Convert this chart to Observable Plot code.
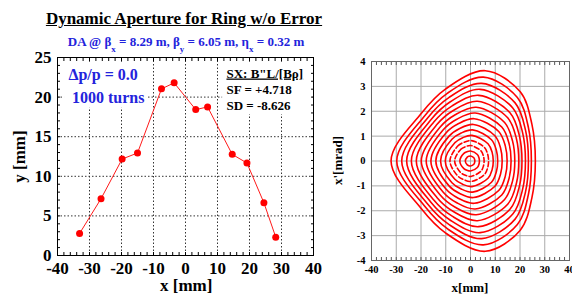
<!DOCTYPE html>
<html>
<head>
<meta charset="utf-8">
<script src="https://cdn.jsdelivr.net/npm/d3@7"></script>
<script src="https://cdn.jsdelivr.net/npm/@observablehq/plot@0.6"></script>
<style>
  html, body { margin: 0; padding: 0; background: #fff; }
  #wrap { position: relative; width: 572px; height: 294px; overflow: hidden; font-family: "Liberation Serif", "Times New Roman", serif; font-weight: bold; }
  .abs { position: absolute; white-space: nowrap; }
  #title { left: 0; width: 368px; top: 10px; text-align: center; font-size: 17px; line-height: 17px; text-decoration: underline; color: #000; }
  #subtitle { left: 0; width: 372px; top: 35px; text-align: center; font-size: 13px; line-height: 13px; color: #2323dc; }
  #subtitle .s { font-size: 9px; position: relative; top: 6px; }
  .axt { font-size: 17px; line-height: 17px; color: #000; }
  .axt2 { font-size: 13px; line-height: 13px; color: #000; }
</style>
</head>
<body>
<div id="wrap">
  <div id="left" class="abs" style="left:0;top:0"></div>
  <div id="right" class="abs" style="left:330px;top:0"></div>
  <div id="title" class="abs">Dynamic Aperture for Ring w/o Error</div>
  <div id="subtitle" class="abs">DA @ β<span class="s">x</span> = 8.29 m, β<span class="s">y</span> = 6.05 m, η<span class="s">x</span> = 0.32 m</div>
  <div class="abs axt" style="left:160px;top:277px;width:50px;text-align:center;">x [mm]</div>
  <div class="abs axt" style="left:-11px;top:148px;width:60px;text-align:center;transform:rotate(-90deg);">y [mm]</div>
  <div class="abs axt2" style="left:440px;top:281px;width:60px;text-align:center;">x[mm]</div>
  <div class="abs axt2" style="left:307px;top:154px;width:60px;text-align:center;transform:rotate(-90deg);">x'[mrad]</div>
</div>
<script>
// ---- Left chart: dynamic aperture ----
const daX = [-33.1, -26.4, -19.8, -15.0, -7.5, -3.55, 3.2, 6.9, 14.6, 19.2, 24.5, 28.2];
const daY = [2.78, 7.17, 12.18, 12.94, 21.04, 21.8, 18.42, 18.76, 12.77, 11.68, 6.66, 2.32];
const leftXTicks = [-40, -30, -20, -10, 0, 10, 20, 30, 40];
const leftYTicks = [0, 5, 10, 15, 20, 25];
const leftXMinor = d3.range(-40, 41, 2);
const leftYMinor = d3.range(0, 26, 1);

// ---- Right chart: phase space rings (upper-half anchor points read per ring, mirrored below) ----
const ringLeft  = [-2.1, -4.3, -6.4, -8.3, -10.2, -12.1, -14.0, -16.0, -17.9, -19.9, -21.9, -23.9, -25.8, -27.8, -29.8, -32.1];
const ringUL1x  = [-1.30, -2.67, -3.97, -5.15, -6.32, -7.50, -8.68, -9.92, -11.1, -12.34, -13.58, -14.82, -16.0, -17.24, -18.48, -20.0];
const ringUL1y  = [0.157, 0.307, 0.465, 0.601, 0.736, 0.873, 1.0, 1.127, 1.245, 1.356, 1.464, 1.566, 1.656, 1.741, 1.823, 1.9];
const ringUL2x  = [-0.65, -1.33, -1.98, -2.57, -3.16, -3.75, -4.34, -4.96, -5.55, -6.17, -6.79, -7.41, -8.0, -8.62, -9.24, -10.0];
const ringUL2y  = [0.19, 0.376, 0.577, 0.754, 0.937, 1.125, 1.308, 1.496, 1.679, 1.858, 2.04, 2.218, 2.39, 2.558, 2.73, 2.9];
const ringTopX  = [0, 0, 0.2, 0.4, 0.6, 0.9, 1.2, 1.5, 1.9, 2.3, 2.8, 3.3, 3.9, 4.5, 5.2, 6.0];
const ringTop   = [0.2, 0.4, 0.62, 0.82, 1.03, 1.25, 1.47, 1.7, 1.93, 2.16, 2.4, 2.64, 2.88, 3.12, 3.37, 3.63];
const ringUR1x  = [1.35, 2.77, 4.24, 5.62, 7.08, 8.47, 9.86, 11.4, 12.63, 13.78, 15.02, 16.02, 17.09, 18.02, 18.94, 20.1];
const ringUR1y  = [0.128, 0.259, 0.407, 0.545, 0.694, 0.853, 1.014, 1.188, 1.365, 1.547, 1.738, 1.932, 2.134, 2.337, 2.554, 2.78];
const ringUR2x  = [1.66, 3.42, 5.23, 6.94, 8.74, 10.45, 12.16, 14.06, 15.58, 17.0, 18.53, 19.76, 21.09, 22.23, 23.37, 24.8];
const ringUR2y  = [0.062, 0.127, 0.2, 0.271, 0.347, 0.429, 0.515, 0.607, 0.701, 0.799, 0.905, 1.011, 1.123, 1.239, 1.358, 1.48];
const ringRight = [1.75, 3.6, 5.5, 7.3, 9.2, 11.0, 12.8, 14.8, 16.4, 17.9, 19.5, 20.8, 22.2, 23.4, 24.6, 26.2];
const ringDashed = [false, false, true, true, false, false, false, false, false, false, false, false, false, false, false, false];
const rightXTicks = [-40, -30, -20, -10, 0, 10, 20, 30, 40];
const rightYTicks = [-4, -3, -2, -1, 0, 1, 2, 3, 4];
const rightXMinor = d3.range(-40, 41, 2);

const daData = daX.map((x, i) => ({x, y: daY[i]}));

const ringRows = [];
ringLeft.forEach((xl, i) => {
  const upper = [
    [xl, 0],
    [ringUL1x[i], ringUL1y[i]],
    [ringUL2x[i], ringUL2y[i]],
    [ringTopX[i], ringTop[i]],
    [ringUR1x[i], ringUR1y[i]],
    [ringUR2x[i], ringUR2y[i]],
    [ringRight[i], 0]
  ];
  const lower = upper.slice(1, -1).reverse().map(([x, y]) => [x, -y]);
  for (const [x, y] of upper.concat(lower)) ringRows.push({ring: i, x, xp: y});
});

const fmt = d => String(d);
const blank = () => "";

const left = Plot.plot({
  width: 330, height: 294,
  marginLeft: 57, marginRight: 17, marginTop: 57, marginBottom: 39,
  style: {fontFamily: "Liberation Serif, serif", fontWeight: "bold", fontSize: "17px", color: "#000", background: "transparent", overflow: "visible"},
  x: {domain: [-40, 40]},
  y: {domain: [0, 25]},
  marks: [
    Plot.gridX(leftXTicks.filter(d => d > -40 && d < 40), {stroke: "#333", strokeOpacity: 1, strokeDasharray: "1.5,2"}),
    Plot.gridY(leftYTicks.filter(d => d > 0 && d < 25), {stroke: "#333", strokeOpacity: 1, strokeDasharray: "1.5,2"}),
    Plot.rect([0], {x1: -37.8, x2: -12.2, y1: 18.6, y2: 24.4, fill: "#fff"}),
    Plot.rect([0], {x1: 11.6, x2: 39.4, y1: 17.8, y2: 24.4, fill: "#fff"}),
    Plot.axisX(leftXMinor, {anchor: "bottom", tickSize: -3, tickFormat: blank, label: null}),
    Plot.axisX(leftXMinor, {anchor: "top", tickSize: -3, tickFormat: blank, label: null}),
    Plot.axisY(leftYMinor, {anchor: "left", tickSize: -3, tickFormat: blank, label: null}),
    Plot.axisY(leftYMinor, {anchor: "right", tickSize: -3, tickFormat: blank, label: null}),
    Plot.axisX(leftXTicks, {anchor: "bottom", tickSize: 0, tickPadding: 6, tickFormat: fmt, label: null}),
    Plot.axisY(leftYTicks, {anchor: "left", tickSize: 0, tickPadding: 6, tickFormat: fmt, label: null}),
    Plot.frame({stroke: "#000", strokeWidth: 1}),
    Plot.line(daData, {x: "x", y: "y", stroke: "#ff1a1a", strokeWidth: 1}),
    Plot.dot(daData, {x: "x", y: "y", r: 3.5, fill: "#ff0000", stroke: "none"}),
    Plot.text(["Δp/p = 0.0"], {x: -36.6, y: 22.8, textAnchor: "start", fill: "#2323dc", fontSize: 16}),
    Plot.text(["1000 turns"], {x: -35.5, y: 19.96, textAnchor: "start", fill: "#2323dc", fontSize: 16}),
    Plot.text(["SX: B\"L/[Bρ]"], {x: 12.8, y: 23.0, textAnchor: "start", fill: "#000", fontSize: 13}),
    Plot.text(["SF = +4.718"], {x: 12.8, y: 20.86, textAnchor: "start", fill: "#000", fontSize: 13}),
    Plot.text(["SD = -8.626"], {x: 12.8, y: 18.88, textAnchor: "start", fill: "#000", fontSize: 13})
  ]
});
document.getElementById("left").appendChild(left);
left.querySelectorAll("text").forEach(t => { if (t.textContent.startsWith("SX:")) t.setAttribute("text-decoration", "underline"); });

const right = Plot.plot({
  width: 242, height: 294,
  marginLeft: 41, marginRight: 3, marginTop: 61, marginBottom: 34,
  style: {fontFamily: "Liberation Serif, serif", fontWeight: "bold", fontSize: "10.5px", color: "#000", background: "transparent", overflow: "visible"},
  x: {domain: [-40, 40]},
  y: {domain: [-4, 4]},
  marks: [
    Plot.gridX(rightXTicks.filter(d => d > -40 && d < 40), {stroke: "#aaa", strokeOpacity: 1}),
    Plot.gridY(rightYTicks.filter(d => d > -4 && d < 4), {stroke: "#aaa", strokeOpacity: 1}),
    Plot.axisX(rightXMinor, {anchor: "bottom", tickSize: -3, tickFormat: blank, label: null, stroke: "#555"}),
    Plot.axisX(rightXMinor, {anchor: "top", tickSize: -3, tickFormat: blank, label: null, stroke: "#555"}),
    Plot.axisX(rightXTicks, {anchor: "bottom", tickSize: 0, tickPadding: 5, tickFormat: fmt, label: null}),
    Plot.axisY(rightYTicks, {anchor: "left", tickSize: 0, tickPadding: 6, tickFormat: fmt, label: null}),
    Plot.frame({stroke: "#666", strokeWidth: 1}),
    Plot.line(ringRows.filter(r => !ringDashed[r.ring]), {x: "x", y: "xp", z: "ring", curve: "catmull-rom-closed", stroke: "#ff0000", strokeWidth: 1.6}),
    Plot.line(ringRows.filter(r => ringDashed[r.ring]), {x: "x", y: "xp", z: "ring", curve: "catmull-rom-closed", stroke: "#ff0000", strokeWidth: 1.6, strokeDasharray: "5,2.5"})
  ]
});
document.getElementById("right").appendChild(right);
</script>
</body>
</html>
